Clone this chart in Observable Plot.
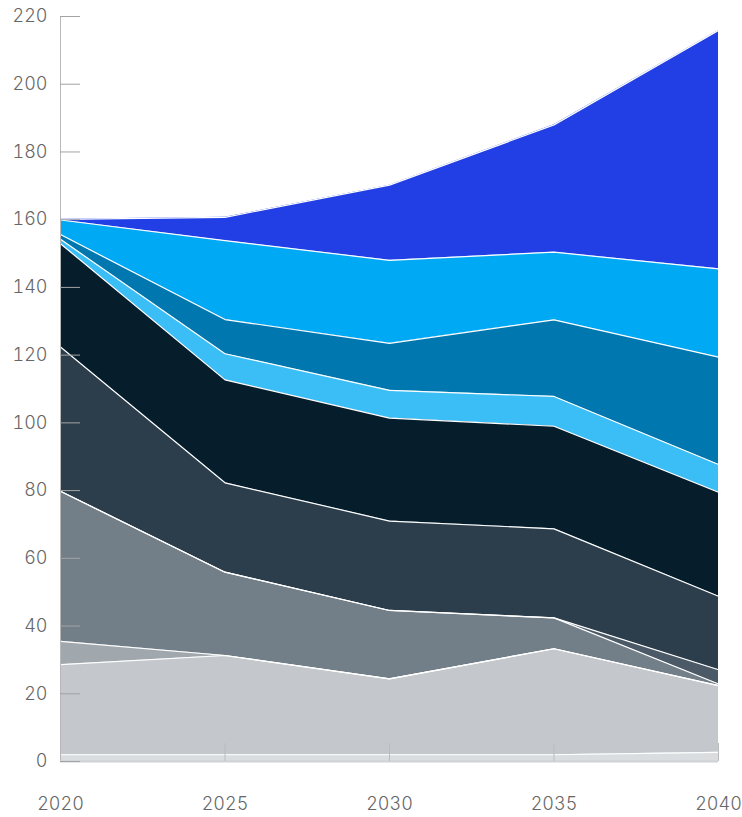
<!DOCTYPE html>
<html><head><meta charset="utf-8">
<script src="https://cdn.jsdelivr.net/npm/d3@7"></script>
<script src="https://cdn.jsdelivr.net/npm/@observablehq/plot@0.6"></script>
<style>body{margin:0;background:#fff}</style>
</head><body><div id="chart"></div>
<script>
const years = [2020, 2025, 2030, 2035, 2040];
const seriesNames = ["s1","s2","s3","s4","s5","s6","s7","s8","s9","s10","s11"];
const s1  = [2.0, 2.0, 2.0, 2.0, 2.7];
const s2  = [26.6, 29.3, 22.4, 31.3, 19.7];
const s3  = [6.9, 0, 0, 0, 0];
const s4  = [44.3, 24.6, 20.2, 9.1, 0.5];
const s5  = [0, 0, 0, 0, 4.2];
const s6  = [42.6, 26.4, 26.4, 26.3, 21.7];
const s7  = [30.5, 30.4, 30.4, 30.3, 30.7];
const s8  = [1.3, 7.7, 8.2, 8.8, 8.2];
const s9  = [1.4, 10.1, 13.9, 22.6, 31.7];
const s10 = [4.3, 23.3, 24.5, 20.0, 26.1];
const s11 = [0.2, 6.9, 22.2, 37.6, 70.4];
const yTicks = [0, 20, 40, 60, 80, 100, 120, 140, 160, 180, 200, 220];
const xTicks = [2020, 2025, 2030, 2035, 2040];
const palette = ["#D9DDE0","#C4C8CC","#A0A7AD","#737F88","#4B5A66","#2C3E4C","#061D2C","#3ABEF5","#0077AF","#00A9F4","#213FE5"];

const seriesValues = [s1,s2,s3,s4,s5,s6,s7,s8,s9,s10,s11];
const data = [];
seriesNames.forEach((name, i) => {
  years.forEach((yr, j) => data.push({series: name, year: yr, value: seriesValues[i][j]}));
});

const chart = Plot.plot({
  width: 742, height: 817,
  marginLeft: 60, marginRight: 24, marginTop: 16, marginBottom: 56,
  style: {fontFamily: "Inter, 'Liberation Sans', sans-serif", fontSize: "18px", fontWeight: 300, color: "#666", background: "#fff"},
  x: {domain: [2020, 2040], label: null},
  y: {domain: [0, 220], label: null},
  color: {domain: seriesNames, range: palette},
  marks: [
    Plot.areaY(data, {x: "year", y: "value", z: "series", fill: "series"}),
    Plot.lineY(data, Plot.stackY2({x: "year", y: "value", z: "series", stroke: "white", strokeWidth: 1.2})),
    Plot.ruleX([2020], {stroke: "#b8b8b8"}),
    Plot.ruleY([0], {stroke: "#cfd1d3", strokeWidth: 2}),
    Plot.tickY(yTicks, {y: d => d, stroke: "#a3a3a3", insetRight: 638}),
    Plot.tickX(xTicks.slice(1), {x: d => d, stroke: "#bbbbbb", insetTop: 727}),
    Plot.axisY(yTicks, {tickSize: 0, tickPadding: 13, label: null}),
    Plot.axisX(xTicks, {tickSize: 0, tickPadding: 36, label: null, tickFormat: d => String(d)})
  ]
});
document.getElementById("chart").appendChild(chart);
</script>
</body></html>
